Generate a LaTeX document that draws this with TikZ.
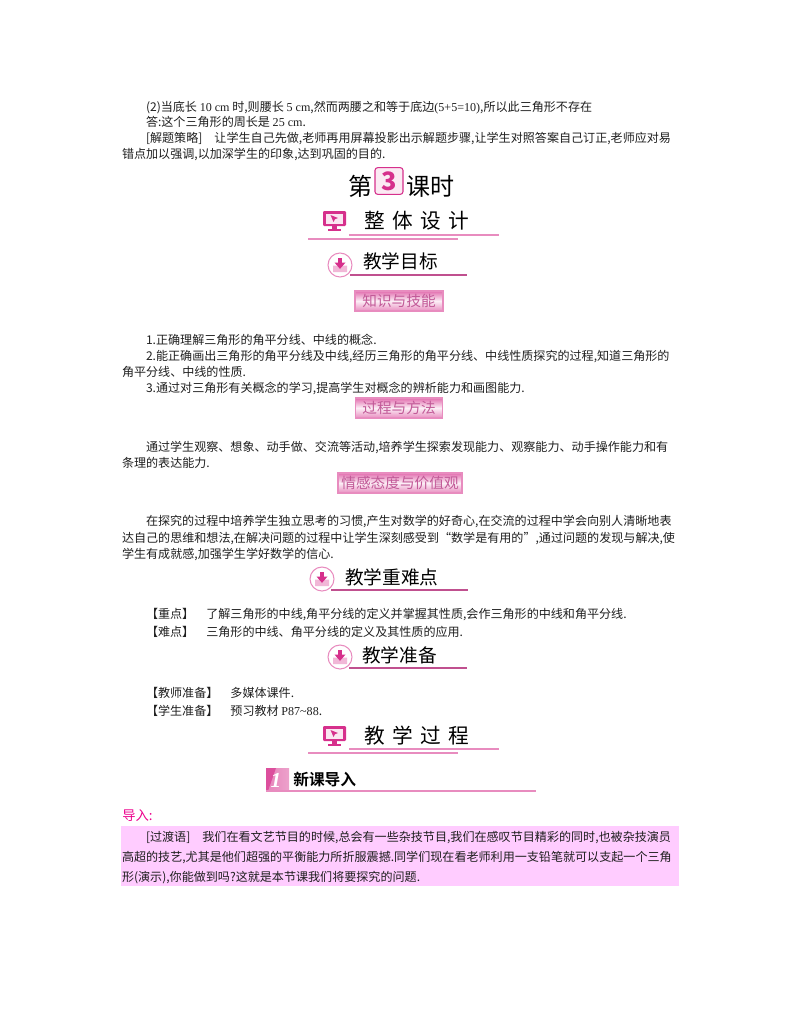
\documentclass[tikz,border=0pt]{standalone}
\usepackage{fontspec}
\setmainfont{Noto Sans CJK SC}
\newfontfamily\latf{Liberation Serif}
\newfontfamily\boldf[BoldFont={Noto Sans CJK SC Bold}]{Noto Sans CJK SC}
\definecolor{txt}{HTML}{1E1E1E}
\definecolor{rose}{HTML}{D6308C}
\definecolor{roseline}{HTML}{C0508F}
\definecolor{pinkline}{HTML}{E88CBF}
\definecolor{lilac}{HTML}{FFCCFF}
\definecolor{labeltxt}{HTML}{C25A98}
\newcommand{\sz}[1]{\fontsize{#1}{#1}\selectfont}
\newcommand{\lt}[1]{{\latf #1}}
\tikzset{
  x=0.75pt,y=-0.75pt,
  body/.style={anchor=base west,inner sep=0pt,outer sep=0pt,text=txt,font=\sz{9.05pt}},
  heading/.style={anchor=base west,inner sep=0pt,text=black,font=\sz{14pt}},
  tagbox/.style={rectangle,draw=pinkline,line width=0.8pt,inner sep=0pt,top color=rose!70!white,bottom color=rose!55!white,middle color=rose!8!white,text=labeltxt,font=\sz{11pt},minimum height=15pt},
  monitoricon/.pic={
    \fill[rose,rounded corners=0.8pt] (0,0) rectangle (23,15);
    \fill[rose!12!white] (3,2.5) rectangle (20,12.5);
    \fill[rose] (7.5,4) -- (15,7) -- (12,8.2) -- (10.5,11) -- cycle;
    \fill[rose] (9,15) rectangle (14,18);
    \fill[rose] (5,18) rectangle (18,20);
  },
  dlicon/.pic={
    \draw[pinkline,fill=white,line width=0.8pt] (0,0) circle (12);
    \fill[rose!35!white] (-7,0.5) -- (-3,0.5) -- (0,4) -- (3,0.5) -- (7,0.5) -- (7,7) -- (-7,7) -- cycle;
    \fill[rose] (-2.3,-7.5) rectangle (2.3,-1.5);
    \fill[rose] (-5.5,-2.5) -- (5.5,-2.5) -- (0,4) -- cycle;
  }
}
\begin{document}
\begin{tikzpicture}
\useasboundingbox (0,0) rectangle (800,1028);
% top paragraph
\node[body] (l1) at (146,111) {(2)当底长 \lt{10 cm} 时,则腰长 \lt{5 cm},然而两腰之和等于底边\lt{(5+5=10)},所以此三角形不存在};
\node[body] (l2) at (146,126) {答:这个三角形的周长是 \lt{25 cm}.};
\node[body] (l3) at (146,142) {[解题策略]\quad 让学生自己先做,老师再用屏幕投影出示解题步骤,让学生对照答案自己订正,老师应对易};
\node[body] (l4) at (122,158) {错点加以强调,以加深学生的印象,达到巩固的目的.};
% lesson title
\node[anchor=base west,inner sep=0pt,text=black,font=\sz{18pt}] (t1) at (348,195) {第};
\node[rectangle,rounded corners=2pt,draw=rose,line width=0.8pt,fill=rose!10!white,text=rose,font=\bfseries\sz{19pt},minimum width=21pt,minimum height=20pt,inner sep=0pt] (t2) at (389,181) {3};
\node[anchor=base west,inner sep=0pt,text=black,font=\sz{18pt}] (t3) at (406,195) {课时};
% section 1
\pic at (323,211) {monitoricon};
\draw[pinkline,line width=0.8pt] (349,235) -- (499,235);
\draw[pinkline,line width=0.8pt] (308,239) -- (458,239);
\node[heading,font=\sz{15.5pt}] (h1) at (364,228) {整\hspace{5.5pt}体\hspace{5.5pt}设\hspace{5.5pt}计};
\pic at (340,265) {dlicon};
\draw[roseline,line width=0.9pt] (350,275) -- (467,275);
\node[heading] (h2) at (363,268) {教学目标};
\node[tagbox,minimum width=66pt] (k1) at (399,301) {知识与技能};
\node[body] (a1) at (146,344) {1.正确理解三角形的角平分线、中线的概念.};
\node[body] (a2) at (146,360) {2.能正确画出三角形的角平分线及中线,经历三角形的角平分线、中线性质探究的过程,知道三角形的};
\node[body] (a3) at (122,376) {角平分线、中线的性质.};
\node[body] (a4) at (146,392) {3.通过对三角形有关概念的学习,提高学生对概念的辨析能力和画图能力.};
\node[tagbox,minimum width=65pt] (k2) at (399,408) {过程与方法};
\node[body] (b1) at (146,451) {通过学生观察、想象、动手做、交流等活动,培养学生探索发现能力、观察能力、动手操作能力和有};
\node[body] (b2) at (122,467) {条理的表达能力.};
\node[tagbox,minimum width=93pt] (k3) at (400,483) {情感态度与价值观};
\node[body] (c1) at (146,525) {在探究的过程中培养学生独立思考的习惯,产生对数学的好奇心,在交流的过程中学会向别人清晰地表};
\node[body] (c2) at (122,542) {达自己的思维和想法,在解决问题的过程中让学生深刻感受到“数学是有用的”,通过问题的发现与解决,使};
\node[body] (c3) at (122,558) {学生有成就感,加强学生学好数学的信心.};
% key points
\pic at (322,579) {dlicon};
\draw[roseline,line width=0.9pt] (331,590) -- (468,590);
\node[heading] (h3) at (345,584) {教学重难点};
\node[body] (d1) at (146,618) {【重点】\quad 了解三角形的中线,角平分线的定义并掌握其性质,会作三角形的中线和角平分线.};
\node[body] (d2) at (146,636) {【难点】\quad 三角形的中线、角平分线的定义及其性质的应用.};
\pic at (340,657) {dlicon};
\draw[roseline,line width=0.9pt] (349,668) -- (467,668);
\node[heading] (h4) at (362,662) {教学准备};
\node[body] (e1) at (146,697) {【教师准备】\quad 多媒体课件.};
\node[body] (e2) at (146,715) {【学生准备】\quad 预习教材 \lt{P87\textasciitilde 88}.};
% section 2
\pic at (323,726) {monitoricon};
\draw[pinkline,line width=0.8pt] (349,749) -- (499,749);
\draw[pinkline,line width=0.8pt] (308,753) -- (458,753);
\node[heading,font=\sz{15.5pt}] (h5) at (364,743) {教\hspace{5.5pt}学\hspace{5.5pt}过\hspace{5.5pt}程};
\fill[left color=rose!60!white,right color=rose!45!white] (266,768) rectangle (289,791);
\fill[rose!85!white] (266,768) -- (276,768) -- (268,791) -- (266,791) -- cycle;
\node[anchor=base,inner sep=0pt,text=white,font=\bfseries\itshape\latf\sz{16pt}] (n1) at (276,787) {1};
\draw[pinkline,line width=0.8pt] (266,791) -- (536,791);
\node[anchor=base west,inner sep=0pt,text=black,font=\boldf\bfseries\sz{11.8pt}] (h6) at (293,785) {新课导入};
% intro
\node[anchor=base west,inner sep=0pt,text=magenta,font=\sz{10pt}] (i1) at (122,820) {导入:};
\fill[lilac] (121,826) rectangle (679,886);
\node[body] (f1) at (146,841) {[过渡语]\quad 我们在看文艺节目的时候,总会有一些杂技节目,我们在感叹节目精彩的同时,也被杂技演员};
\node[body] (f2) at (122,861) {高超的技艺,尤其是他们超强的平衡能力所折服震撼.同学们现在看老师利用一支铅笔就可以支起一个三角};
\node[body] (f3) at (122,881) {形(演示),你能做到吗?这就是本节课我们将要探究的问题.};
\end{tikzpicture}
\end{document}
